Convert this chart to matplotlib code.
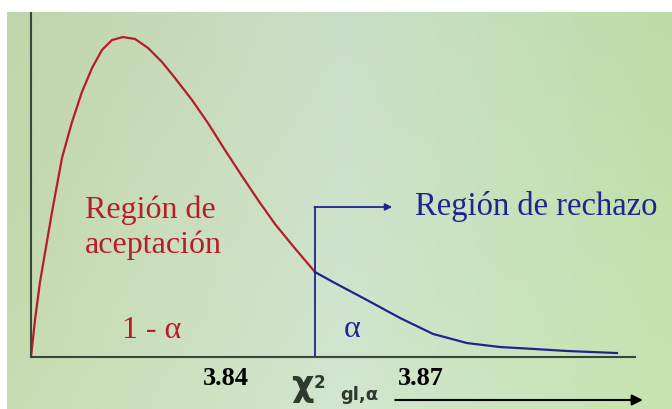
import matplotlib
matplotlib.use("Agg")
import matplotlib.pyplot as plt  # noqa: E402
import numpy as np  # noqa: E402

# Density curve (acceptance part, then rejection tail)
accept_x = [0.000, 0.066, 0.149, 0.348, 0.513, 0.679, 0.844, 1.010, 1.175,
            1.341, 1.523, 1.722, 1.937, 2.169, 2.384, 2.666, 2.930, 3.212,
            3.493, 3.758, 4.040, 4.338, 4.702]
accept_y = [0.0000, 0.0215, 0.0436, 0.0843, 0.1157, 0.1366, 0.1541, 0.1680,
            0.1785, 0.1843, 0.1860, 0.1849, 0.1797, 0.1715, 0.1622, 0.1494,
            0.1360, 0.1203, 0.1052, 0.0913, 0.0773, 0.0645, 0.0494]
reject_x = [4.702, 5.000, 5.563, 6.109, 6.656, 7.219, 7.765, 8.311, 8.874,
            9.702]
reject_y = [0.0494, 0.0436, 0.0331, 0.0227, 0.0134, 0.0081, 0.0058, 0.0047,
            0.0035, 0.0023]

crit_x = 4.702
crit_top = 0.0872
tick_labels = ["3.84", "3.87"]

RED = "#b81c28"
BLUE = "#1c2590"
AXIS = "#3a463a"

fig = plt.figure(figsize=(6.72, 4.09), dpi=100)
fig.patch.set_facecolor("white")

# textured-paper look: soft green gradient behind the chart
bg = fig.add_axes([7 / 672, 0, 665 / 672, 397 / 409])
gx = np.linspace(0, 1, 200)
gy = np.linspace(0, 1, 120)
X, Y = np.meshgrid(gx, gy)
c1 = np.array([0.77, 0.85, 0.68])   # yellow-green left
c2 = np.array([0.81, 0.89, 0.80])   # pale middle
c3 = np.array([0.76, 0.88, 0.67])   # green right
w = X[..., None]
img = np.where(w < 0.5, c1 + (c2 - c1) * (w / 0.5),
               c2 + (c3 - c2) * ((w - 0.5) / 0.5))
img = img + 0.03 * (Y[..., None] - 0.5)
bg.imshow(np.clip(img, 0, 1), aspect="auto", extent=[0, 1, 0, 1])
bg.axis("off")

ax = fig.add_axes([31 / 672, 52 / 409, 604 / 672, 344 / 409])
ax.patch.set_alpha(0)
ax.set_xlim(0, 10)
ax.set_ylim(0, 0.2)
for s in ["top", "right"]:
    ax.spines[s].set_visible(False)
for s in ["left", "bottom"]:
    ax.spines[s].set_color(AXIS)
    ax.spines[s].set_linewidth(1.5)
ax.set_xticks([])
ax.set_yticks([])

ax.plot(accept_x, accept_y, color=RED, lw=1.6, solid_joinstyle="round")
ax.plot(reject_x, reject_y, color=BLUE, lw=1.6, solid_joinstyle="round")

# critical value marker and arrow to the rejection label
ax.plot([crit_x, crit_x], [0, crit_top], color=BLUE, lw=1.3)
ax.annotate("", xy=(5.98, crit_top), xytext=(crit_x - 0.01, crit_top),
            arrowprops=dict(arrowstyle="-|>", color=BLUE, lw=1.3,
                            mutation_scale=10, shrinkA=0, shrinkB=0))

serif = "Liberation Serif"
ax.text(0.89, 0.0808, "Región de", color=RED, fontsize=23, family=serif,
        va="baseline")
ax.text(0.89, 0.0605, "aceptación", color=RED, fontsize=23, family=serif,
        va="baseline")
ax.text(1.51, 0.0110, "1 - α", color=RED, fontsize=23, family=serif,
        va="baseline")
ax.text(5.17, 0.0116, "α", color=BLUE, fontsize=23, family=serif,
        va="baseline")
ax.text(6.36, 0.0826, "Región de rechazo", color=BLUE, fontsize=23.5,
        family=serif, va="baseline", clip_on=False)

# labels under the x axis
ax.text(2.85, -0.0163, tick_labels[0], fontsize=19, family=serif,
        weight="bold", va="baseline", clip_on=False)
ax.text(6.08, -0.0163, tick_labels[1], fontsize=19, family=serif,
        weight="bold", va="baseline", clip_on=False)
ax.text(4.30, -0.0225, "χ", fontsize=25, weight="bold", color="#2e3a2e",
        family="DejaVu Sans", va="baseline", clip_on=False)
ax.text(4.68, -0.0180, "2", fontsize=12, weight="bold", color="#2e3a2e",
        family="DejaVu Sans", va="baseline", clip_on=False)
ax.text(5.12, -0.0250, "gl,α", fontsize=13, weight="bold", color="#2e3a2e",
        family="DejaVu Sans", va="baseline", clip_on=False)
ax.annotate("", xy=(10.13, -0.0250), xytext=(6.03, -0.0250),
            xycoords="data", annotation_clip=False,
            arrowprops=dict(arrowstyle="-|>", color="black", lw=1.5,
                            mutation_scale=16, shrinkA=0, shrinkB=0))

fig.savefig("out.png", dpi=100)
